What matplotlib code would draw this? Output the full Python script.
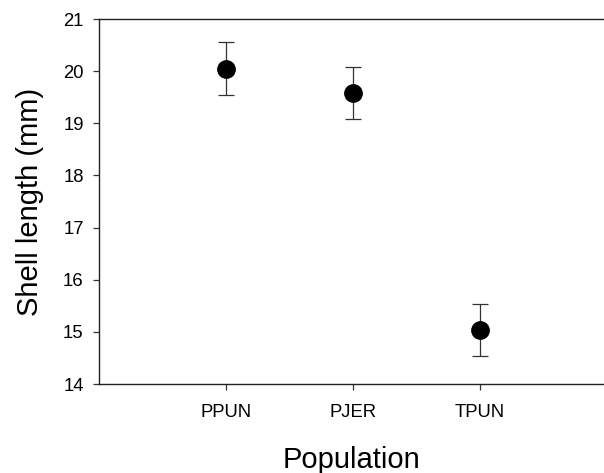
import matplotlib
matplotlib.use("Agg")
import matplotlib.pyplot as plt

populations = ["PPUN", "PJER", "TPUN"]
shell_length = [20.05, 19.58, 15.03]
error = [0.50, 0.50, 0.50]
y_ticks = [14, 15, 16, 17, 18, 19, 20, 21]

plt.rcParams['font.family'] = ['Liberation Sans', 'DejaVu Sans']

fig = plt.figure(figsize=(6.04, 4.73), dpi=100)
ax = fig.add_axes([99/604, 89/473, (604-99)/604, (384-19)/473])

x = list(range(1, len(populations) + 1))
ax.errorbar(x, shell_length, yerr=error, fmt='o', color='black', ecolor='#333333',
            elinewidth=0.9, capsize=5.5, capthick=0.9, markersize=12.5, zorder=3)

ax.set_xlim(0, 3.98)
ax.set_ylim(14, 21)
ax.set_xticks(x)
ax.set_xticklabels(populations)
ax.set_yticks(y_ticks)

for side in ['left', 'bottom', 'top']:
    ax.spines[side].set_linewidth(1.0)
    ax.spines[side].set_color('#222222')
ax.spines['right'].set_visible(False)

ax.tick_params(axis='both', labelsize=13.3, length=4, width=0.9, color='#333333', direction='out')
ax.tick_params(axis='x', pad=10.5)
ax.tick_params(axis='y', pad=7)

ax.set_xlabel("Population", fontsize=21, labelpad=18)
ax.set_ylabel("Shell length (mm)", fontsize=21, labelpad=14)

fig.savefig("out.png", dpi=100)
